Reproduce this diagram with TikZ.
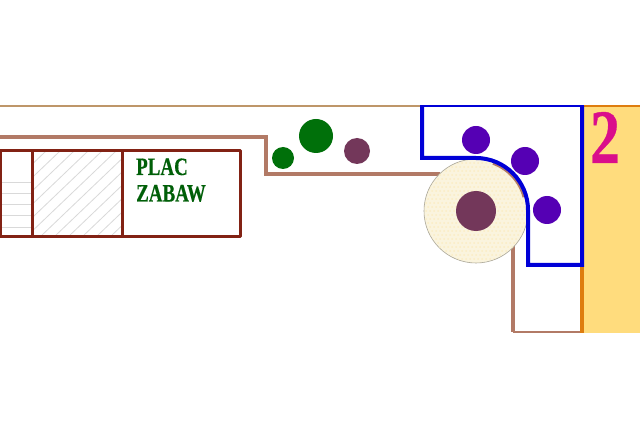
\documentclass[tikz,border=0pt]{standalone}
\usepackage{fontspec}
\setmainfont{Liberation Serif}[BoldFeatures={FakeBold=0.5}]
\usepackage{xcolor}
\definecolor{wall}{RGB}{178,122,102}
\definecolor{fence}{RGB}{130,34,20}
\definecolor{tan}{RGB}{190,150,105}
\definecolor{sand}{RGB}{255,220,125}
\definecolor{edge}{RGB}{222,125,15}
\definecolor{water}{RGB}{0,0,215}
\definecolor{violet}{RGB}{85,0,180}
\definecolor{mauve}{RGB}{115,55,90}
\definecolor{leaf}{RGB}{0,112,10}
\definecolor{cream}{RGB}{250,244,222}
\tikzset{
  wallline/.style={draw=wall, line width=3.5pt},
  fenceline/.style={draw=fence, line width=3pt, line join=round},
  hatchline/.style={draw=black!15, line width=0.8pt},
  waterline/.style={draw=water, line width=4pt, line join=miter},
  tree/.style={circle, inner sep=0pt, outer sep=0pt},
  violettree/.style={tree, fill=violet, minimum size=28pt},
  title/.style={font=\bfseries\fontsize{25}{25}\selectfont, text=leaf!85!black, anchor=base west, inner sep=0pt, xscale=.76, transform shape},
}
\begin{document}
\begin{tikzpicture}[x=1pt,y=-1pt]
\useasboundingbox (0,0) rectangle (640,438);
\fill[white] (0,0) rectangle (640,438);
% sand on the right
\fill[sand] (583,106) rectangle (640,333);
\draw[draw=tan, line width=2pt] (0,106) -- (422,106);
\draw[draw=edge, line width=2pt] (582,106) -- (640,106);
% walls
\draw[wallline] (0,137) -- (266,137) -- (266,174) -- (440,174);
\draw[wallline] (513,245) -- (513,332);
\draw[draw=wall, line width=2.5pt] (513,332) -- (582,332);
\draw[draw=edge, line width=3.5pt] (582,265) -- (582,333);
% playground
\begin{scope}
\clip (32,151) rectangle (122,237);
\foreach \d in {0,14,...,210}
  \draw[hatchline] (32+\d-90,237) -- (32+\d,151);
\end{scope}
\foreach \h in {182,193,204,215,227}
  \draw[hatchline] (0,\h) -- (32,\h);
\draw[fenceline] (0,151) -- (240,151) -- (240,237) -- (0,237);
\draw[fenceline] (0,151) -- (0,237);
\draw[fenceline] (32,151) -- (32,237);
\draw[fenceline] (122,151) -- (122,237);
\node (plac) [title] at (136,175) {PLAC};
\node (zabaw) [title] at (136,201.5) {ZABAW};
% big round bed
\node (bed) [tree, fill=cream, draw=black!20!cream!85!black, line width=0.6pt, minimum size=104pt] at (476,211) {};
\begin{scope}
\clip (476,211) circle (51.5);
\foreach \i in {0,...,26}
  \foreach \j in {0,...,26}
    \fill[sand!28!cream] ({424+\i*4+2*mod(\j,2)},{159+\j*4}) circle (1);
\end{scope}
\node (bedtree) [tree, fill=mauve, minimum size=40pt] at (476,211) {};
\draw[wallline] (476,210) ++(-70:50) arc (-70:-15:50);
% blue outline
\draw[waterline] (422,106) -- (422,158) -- (476,158) arc (-90:0:52) -- (528,265) -- (582,265) -- (582,106);
\draw[draw=water, line width=2.5pt] (420,106) -- (584,106);
\node (t1) [violettree] at (476,140) {};
\node (t2) [violettree] at (525,161) {};
\node (t3) [violettree] at (547,210) {};
% trees by the wall
\node (g1) [tree, fill=leaf, minimum size=34pt] at (316,136) {};
\node (g2) [tree, fill=leaf, minimum size=22pt] at (283,158) {};
\node (m1) [tree, fill=mauve, minimum size=26pt] at (357,151) {};
\node (num) [anchor=base, inner sep=0pt, text=magenta!85!violet, font=\bfseries\fontsize{77}{77}\selectfont, xscale=.78, transform shape] at (605,163) {2};
\end{tikzpicture}
\end{document}
